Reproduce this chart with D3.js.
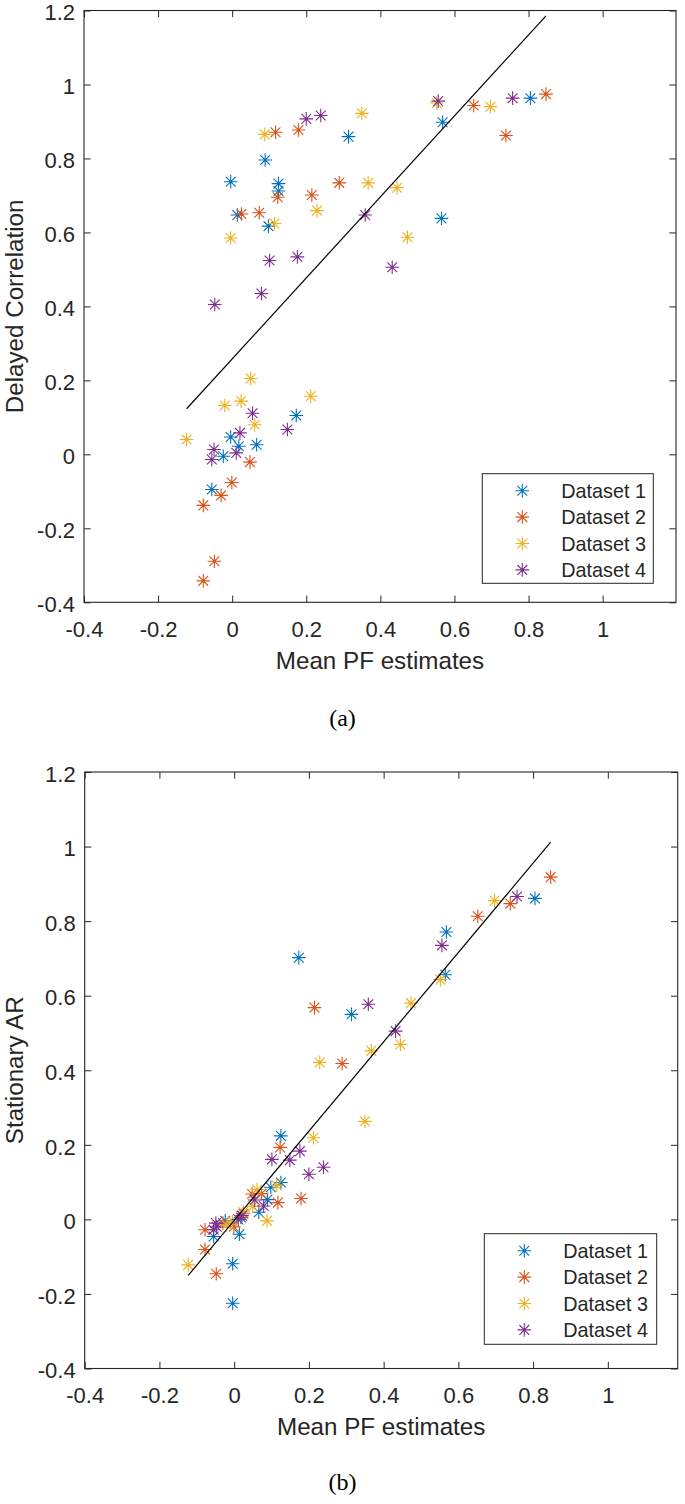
<html>
<head>
    <style>
        body { margin: 0; background: white; font-family: Arial, "Liberation Sans", Helvetica, sans-serif }
        svg { display: block }
    </style>
    <script src="https://cdn.jsdelivr.net/npm/d3@7"></script>
</head>
<body>
    <svg id="Chart"></svg>
</body>
<script>
    // values, one entry per point, same order in every array of a dataset
    let datasetNames = ["Dataset 1", "Dataset 2", "Dataset 3", "Dataset 4"]

    let pfEst1 = [-0.055, -0.024, -0.004, -0.004, 0.014, 0.018, 0.066, 0.089, 0.098, 0.125, 0.125, 0.173, 0.314, 0.565, 0.568, 0.805]
    let delayCorr1 = [-0.095, -0.005, 0.737, 0.047, 0.647, 0.022, 0.026, 0.796, 0.617, 0.732, 0.712, 0.105, 0.859, 0.638, 0.898, 0.963]
    let statAR1 = [-0.046, -0.004, -0.119, -0.225, -0.040, 0.005, 0.019, 0.053, 0.086, 0.224, 0.099, 0.702, 0.550, 0.656, 0.771, 0.861]

    let pfEst2 = [-0.078, -0.078, -0.048, -0.030, -0.001, 0.025, 0.048, 0.073, 0.117, 0.123, 0.179, 0.215, 0.289, 0.652, 0.739, 0.847]
    let delayCorr2 = [-0.138, -0.342, -0.289, -0.111, -0.076, 0.650, -0.021, 0.653, 0.871, 0.695, 0.877, 0.701, 0.734, 0.943, 0.862, 0.974]
    let statAR2 = [-0.028, -0.081, -0.146, -0.010, -0.020, 0.015, 0.068, 0.069, 0.045, 0.193, 0.056, 0.568, 0.418, 0.813, 0.847, 0.918]

    let pfEst3 = [-0.123, -0.020, -0.004, 0.024, 0.050, 0.061, 0.088, 0.114, 0.212, 0.229, 0.350, 0.367, 0.445, 0.473, 0.552, 0.697]
    let delayCorr3 = [0.040, 0.132, 0.585, 0.144, 0.205, 0.080, 0.865, 0.624, 0.157, 0.659, 0.922, 0.734, 0.721, 0.587, 0.950, 0.940]
    let statAR3 = [-0.122, -0.015, -0.005, 0.020, 0.035, 0.080, -0.004, 0.091, 0.219, 0.421, 0.263, 0.452, 0.469, 0.580, 0.643, 0.855]

    let pfEst4 = [-0.055, -0.049, -0.047, 0.011, 0.021, 0.055, 0.079, 0.101, 0.149, 0.176, 0.200, 0.239, 0.359, 0.432, 0.556, 0.757]
    let delayCorr4 = [-0.014, 0.013, 0.405, 0.004, 0.058, 0.111, 0.435, 0.524, 0.067, 0.534, 0.907, 0.916, 0.647, 0.506, 0.955, 0.963]
    let statAR4 = [-0.028, -0.010, -0.020, 0.000, 0.010, 0.052, 0.036, 0.161, 0.159, 0.183, 0.121, 0.140, 0.577, 0.505, 0.735, 0.866]

    // least squares lines [intercept, slope]
    let fitCorr = [0.258, 1.095]
    let fitAR = [-0.003, 1.198]

    let xTicks = [-0.4, -0.2, 0, 0.2, 0.4, 0.6, 0.8, 1]
    let yTicks = [-0.4, -0.2, 0, 0.2, 0.4, 0.6, 0.8, 1, 1.2]

    let colors = ["#0072BD", "#D95319", "#EDB120", "#7E2F8E"]
    let ink = "#262626"

    function fmt(d) {
        return String(Math.round(d * 10) / 10)
    }

    function getConfig() {
        let width = 685, height = 1504
        let container = d3.select("#Chart").attr("width", width).attr("height", height)
        let panels = [
            { left: 84, top: 10.5, right: 676, bottom: 602.3, xMax: 1.198,
              xs: [pfEst1, pfEst2, pfEst3, pfEst4], ys: [delayCorr1, delayCorr2, delayCorr3, delayCorr4],
              fit: fitCorr, ylabel: "Delayed Correlation", caption: "(a)", captionY: 718,
              legend: { x: 482.3, y: 473.7, w: 171, h: 109.6 } },
            { left: 84.7, top: 772, right: 677.7, bottom: 1368.5, xMax: 1.187,
              xs: [pfEst1, pfEst2, pfEst3, pfEst4], ys: [statAR1, statAR2, statAR3, statAR4],
              fit: fitAR, ylabel: "Stationary AR", caption: "(b)", captionY: 1482,
              legend: { x: 484.3, y: 1233.7, w: 172.4, h: 110.6 } }
        ]
        return { width, height, container, panels }
    }

    function getScales(p) {
        let xScale = d3.scaleLinear().domain([-0.4, p.xMax]).range([p.left, p.right])
        let yScale = d3.scaleLinear().domain([-0.4, 1.2]).range([p.bottom, p.top])
        return { xScale, yScale }
    }

    function starPath(r) {
        let d = r * 0.72
        return `M${-r},0H${r}M0,${-r}V${r}M${-d},${-d}L${d},${d}M${-d},${d}L${d},${-d}`
    }

    function drawAxes(p, scales, container) {
        let { xScale, yScale } = scales
        let tick = 6.7
        let g = container.append("g")

        g.append("g").attr("transform", `translate(0,${p.bottom})`)
            .call(d3.axisBottom(xScale).tickValues(xTicks).tickFormat(fmt).tickSizeInner(-tick).tickSizeOuter(0).tickPadding(19))
        g.append("g").attr("transform", `translate(0,${p.top})`)
            .call(d3.axisTop(xScale).tickValues(xTicks).tickFormat("").tickSizeInner(-tick).tickSizeOuter(0))
        let left = g.append("g").attr("transform", `translate(${p.left},0)`)
            .call(d3.axisLeft(yScale).tickValues(yTicks).tickFormat(fmt).tickSizeInner(-tick).tickSizeOuter(0).tickPadding(9))
        g.append("g").attr("transform", `translate(${p.right},0)`)
            .call(d3.axisRight(yScale).tickValues(yTicks).tickFormat("").tickSizeInner(-tick).tickSizeOuter(0))

        g.selectAll(".domain").remove()
        g.selectAll(".tick line").attr("stroke", ink).attr("stroke-width", 1)
        g.selectAll(".tick text").attr("fill", ink).style("font-size", "22px")
            .style("font-family", "Arial, 'Liberation Sans', sans-serif")
        left.selectAll(".tick text").attr("dy", "0.42em")

        g.append("rect")
            .attr("x", p.left).attr("y", p.top)
            .attr("width", p.right - p.left).attr("height", p.bottom - p.top)
            .attr("fill", "none").attr("stroke", ink).attr("stroke-width", 1.1)

        g.append("text")
            .attr("x", (p.left + p.right) / 2).attr("y", p.bottom + 66.5)
            .attr("text-anchor", "middle").attr("fill", ink)
            .style("font-size", "24.2px")
            .text("Mean PF estimates")

        g.append("text")
            .attr("transform", `translate(23,${(p.top + p.bottom) / 2}) rotate(-90)`)
            .attr("text-anchor", "middle").attr("fill", ink)
            .style("font-size", "24.2px")
            .text(p.ylabel)

        g.append("text")
            .attr("x", 342.5).attr("y", p.captionY).attr("dy", "0.35em")
            .attr("text-anchor", "middle").attr("fill", "black")
            .style("font-family", "'Liberation Serif', 'Times New Roman', serif")
            .style("font-size", "24px")
            .text(p.caption)
    }

    function drawPoints(p, scales, container) {
        let { xScale, yScale } = scales
        let body = container.append("g")
        p.xs.forEach((xs, i) => {
            let pts = xs.map((x, j) => ({ x: x, y: p.ys[i][j] }))
            body.selectAll(".pt" + i).data(pts).enter().append("path")
                .attr("class", "pt" + i)
                .attr("d", starPath(6.8))
                .attr("transform", d => `translate(${xScale(d.x)},${yScale(d.y)})`)
                .attr("stroke", colors[i]).attr("stroke-width", 1.1).attr("fill", "none")
        })

        // fitted line across the range of the estimates
        let allX = p.xs.flat()
        let x0 = d3.min(allX), x1 = d3.max(allX)
        let line = d3.line().x(d => xScale(d)).y(d => yScale(p.fit[0] + p.fit[1] * d))
        body.append("path").datum([x0, x1])
            .attr("d", line)
            .attr("stroke", "black").attr("stroke-width", 1.2).attr("fill", "none")
    }

    function drawLegend(p, container) {
        let L = p.legend
        let g = container.append("g").attr("transform", `translate(${L.x},${L.y})`)
        g.append("rect").attr("width", L.w).attr("height", L.h)
            .attr("fill", "white").attr("stroke", ink).attr("stroke-width", 1)
        let rows = g.selectAll(".row").data(datasetNames).enter().append("g")
            .attr("transform", (d, i) => `translate(0,${17 + i * 26.4})`)
        rows.append("path").attr("d", starPath(6.8))
            .attr("transform", "translate(40,0)")
            .attr("stroke", (d, i) => colors[i]).attr("stroke-width", 1.1).attr("fill", "none")
        rows.append("text").attr("x", 79).attr("dy", "0.36em")
            .attr("fill", ink).style("font-size", "19.8px")
            .text(d => d)
    }

    function drawChart() {
        let config = getConfig()
        config.panels.forEach(p => {
            let scales = getScales(p)
            drawAxes(p, scales, config.container)
            drawPoints(p, scales, config.container)
            drawLegend(p, config.container)
        })
    }

    drawChart()
</script>
</html>
